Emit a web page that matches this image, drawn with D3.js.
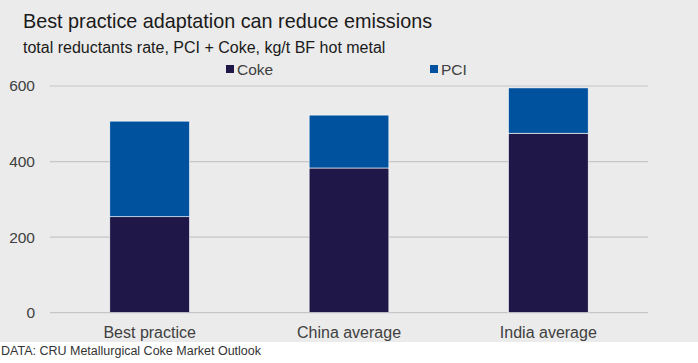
<!DOCTYPE html>
<html>
<head>
<meta charset="utf-8">
<script src="https://cdn.jsdelivr.net/npm/d3@7"></script>
<style>
  body { margin: 0; background: #fff; }
  text { font-family: "Liberation Sans", Arial, sans-serif; }
</style>
</head>
<body>
<svg id="chart" width="698" height="363"></svg>
<script>
var categories = ["Best practice", "China average", "India average"]
var coke = [254, 383, 475]
var pci = [253, 140, 120]
var seriesNames = ["Coke", "PCI"]
var yTicks = [0, 200, 400, 600]

var colors = {"Coke": "#1f1747", "PCI": "#00529f"}

var svg = d3.select("#chart")
var W = 698, H = 363

// grey panel, white strip at the bottom for the source line
svg.append("rect").attr("width", W).attr("height", 342).attr("fill", "#ebebeb")

svg.append("text").attr("x", 23).attr("y", 28)
  .attr("font-size", 19.8).attr("fill", "#1a1a1a")
  .text("Best practice adaptation can reduce emissions")
svg.append("text").attr("x", 23).attr("y", 52.5)
  .attr("font-size", 16).attr("fill", "#1a1a1a")
  .text("total reductants rate, PCI + Coke, kg/t BF hot metal")

var margin = {top: 86, left: 50, right: 50}
var plotW = W - margin.left - margin.right
var plotH = 312.7 - margin.top

var x = d3.scaleBand().domain(categories).range([0, plotW]).paddingInner(0.6).paddingOuter(0.3)
var y = d3.scaleLinear().domain([0, 600]).range([plotH, 0])

var g = svg.append("g").attr("transform", "translate(" + margin.left + "," + margin.top + ")")

// grid lines
g.selectAll(".grid").data(yTicks).enter().append("line")
  .attr("x1", 0).attr("x2", plotW)
  .attr("y1", function(d) { return y(d) }).attr("y2", function(d) { return y(d) })
  .attr("stroke", "#c6c6c6").attr("stroke-width", 1.2)

// y axis labels
var yAxis = d3.axisLeft(y).tickValues(yTicks).tickSize(0).tickPadding(15)
var ya = g.append("g").call(yAxis)
ya.select(".domain").remove()
ya.selectAll("text").attr("font-size", 15.5).attr("fill", "#404040")
  .attr("font-family", "\"Liberation Sans\", Arial, sans-serif")

// x axis labels
var xAxis = d3.axisBottom(x).tickSize(0).tickPadding(13.5)
var xa = g.append("g").attr("transform", "translate(0," + plotH + ")").call(xAxis)
xa.select(".domain").remove()
xa.selectAll("text").attr("font-size", 16).attr("fill", "#404040")
  .attr("font-family", "\"Liberation Sans\", Arial, sans-serif")

var rows = categories.map(function(c, i) { return {cat: c, Coke: coke[i], PCI: pci[i]} })
var stack = d3.stack().keys(seriesNames)(rows)

g.selectAll(".series").data(stack).enter().append("g")
  .attr("fill", function(d) { return colors[d.key] })
  .selectAll("rect").data(function(d) { return d }).enter().append("rect")
  .attr("x", function(d) { return x(d.data.cat) })
  .attr("width", x.bandwidth())
  .attr("y", function(d) { return y(d[1]) })
  .attr("height", function(d) { return y(d[0]) - y(d[1]) })
  .attr("stroke", "#ffffff").attr("stroke-width", 0.6)

// legend
var legendX = [226, 430]
var legend = svg.selectAll(".legend").data(seriesNames).enter().append("g")
  .attr("transform", function(d, i) { return "translate(" + legendX[i] + ",69)" })
legend.append("rect").attr("x", 0).attr("y", -4).attr("width", 8).attr("height", 8)
  .attr("fill", function(d) { return colors[d] })
legend.append("text").attr("x", 11).attr("y", 5.5)
  .attr("font-size", 15.5).attr("fill", "#404040")
  .text(function(d) { return d })

svg.append("text").attr("x", 1).attr("y", 355)
  .attr("font-size", 12.5).attr("fill", "#333")
  .text("DATA: CRU Metallurgical Coke Market Outlook")
</script>
</body>
</html>
